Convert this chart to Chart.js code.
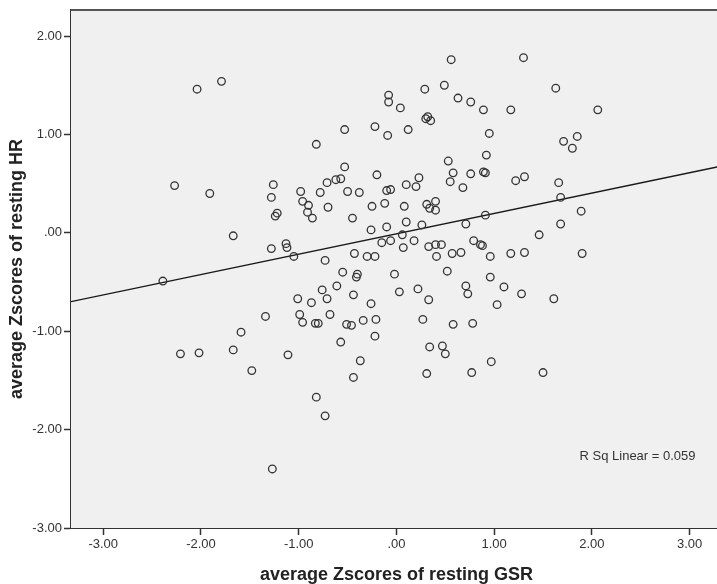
<!DOCTYPE html>
<html>
<head>
<meta charset="utf-8">
<title>HR vs GSR z-scores</title>
<style>
  html, body { margin: 0; padding: 0; background: #ffffff; overflow: hidden; }
  #wrap { width: 727px; height: 584px; }
</style>
<script src="https://cdn.jsdelivr.net/npm/chart.js@4.4.1/dist/chart.umd.min.js"></script>
</head>
<body>
<div id="wrap"><canvas id="chart" width="727" height="584"></canvas></div>
<script>
// Per-participant averaged z-scores (x: resting GSR, y: resting HR)
const gsrZ = [
  -2.04, -1.79, -0.82, -0.53, -0.22, 0.56, 1.30, -0.08, -0.08, 0.29,
  0.49, 0.04, 0.63, 0.76, 0.89, 1.17, 1.63, 2.06, 0.32, 0.30,
  0.35, -0.09, 0.12, 0.95, 0.92, 1.71, 1.85, 1.80, 0.53,
  -2.27, -1.91, -1.26, -1.28, -1.22, -1.24, -1.67, -1.28, -1.13, -1.12, -1.05,
  -0.98, -0.96, -0.90, -0.91, -0.86, -0.78, -0.71, -0.62, -0.57, -0.53,
  -0.50, -0.38, -0.70, -0.45, -0.25, -0.26, -0.20, -0.73, -0.43, -0.30, -0.22, -0.55, -0.40,
  0.23, 0.10, 0.20, -0.10, -0.06, 0.58, 0.55, 0.68, 0.76, 0.89,
  0.91, 1.22, 1.31, 1.66, 1.68, 1.89, 1.68, 1.46, 1.90, 1.17,
  1.31, 0.96, 0.91, 0.71, 0.79, 0.86, 0.88, 0.66, 0.57, 0.41,
  0.33, 0.40, 0.46, 0.18, 0.07, 0.26, 0.10, -0.10, 0.06, -0.06,
  -0.15, -0.12, 0.08, 0.31, 0.40, 0.34, 0.40, -0.02, 0.52,
  -2.39, -1.34, -1.59, -2.21, -2.02, -1.67, -1.48, -1.11, -1.01, -0.99,
  -0.96, -0.87, -0.76, -0.71, -0.61, -0.68, -0.83, -0.80, -0.41, -0.44,
  -0.26, -0.51, -0.46, -0.34, -0.21, -0.22, -0.57, -0.37, -0.44,
  0.96, 0.71, 0.73, 1.10, 1.28, 1.61, 1.03, 0.22, 0.03, 0.33,
  0.27, 0.58, 0.78, 0.34, 0.47, 0.50, 0.97, 0.31, 0.77, 1.50,
  -0.82, -0.73, -1.27
];

const hrZ = [
  1.46, 1.54, 0.90, 1.05, 1.08, 1.76, 1.78, 1.40, 1.33, 1.46,
  1.50, 1.27, 1.37, 1.33, 1.25, 1.25, 1.47, 1.25, 1.18, 1.16,
  1.14, 0.99, 1.05, 1.01, 0.79, 0.93, 0.98, 0.86, 0.73,
  0.48, 0.40, 0.49, 0.36, 0.20, 0.17, -0.03, -0.16, -0.11, -0.15, -0.24,
  0.42, 0.32, 0.28, 0.21, 0.15, 0.41, 0.51, 0.54, 0.55, 0.67,
  0.42, 0.41, 0.26, 0.15, 0.27, 0.03, 0.59, -0.28, -0.21, -0.24, -0.24, -0.40, -0.42,
  0.56, 0.49, 0.47, 0.43, 0.44, 0.61, 0.52, 0.46, 0.60, 0.62,
  0.61, 0.53, 0.57, 0.51, 0.36, 0.22, 0.09, -0.02, -0.21, -0.21,
  -0.20, -0.24, 0.18, 0.09, -0.08, -0.12, -0.13, -0.20, -0.21, -0.24,
  -0.14, -0.12, -0.12, -0.08, -0.15, 0.08, 0.11, 0.06, -0.02, -0.08,
  -0.10, 0.30, 0.27, 0.29, 0.32, 0.25, 0.23, -0.42, -0.39,
  -0.49, -0.85, -1.01, -1.23, -1.22, -1.19, -1.40, -1.24, -0.67, -0.83,
  -0.91, -0.71, -0.58, -0.67, -0.54, -0.83, -0.92, -0.92, -0.45, -0.63,
  -0.72, -0.93, -0.94, -0.89, -0.88, -1.05, -1.11, -1.30, -1.47,
  -0.45, -0.54, -0.62, -0.55, -0.62, -0.67, -0.73, -0.57, -0.60, -0.68,
  -0.88, -0.93, -0.92, -1.16, -1.15, -1.23, -1.31, -1.43, -1.42, -1.42,
  -1.67, -1.86, -2.40
];

// Axis ticks
const xTickValues = [-3, -2, -1, 0, 1, 2, 3];
const yTickValues = [-3, -2, -1, 0, 1, 2];

// Linear fit (total sample)
const fitIntercept = -0.01;
const fitSlope = 0.207;
const rSqLabel = 'R Sq Linear = 0.059';

// Axis extents
const xMin = -3.33, xMax = 3.33;
const yMin = -3, yMax = 2.265;

const FONT = '"Liberation Sans", Arial, Helvetica, sans-serif';

// SPSS-style number format: 2 decimals, no leading zero on zero
function fmtTick(v) {
  if (Math.abs(v) < 1e-9) return '.00';
  return Number(v).toFixed(2);
}

const points = gsrZ.map((x, i) => ({ x: x, y: hrZ[i] }));
const fitLine = [xMin, xMax].map(x => ({ x: x, y: fitIntercept + fitSlope * x }));

const plotFrame = {
  id: 'plotFrame',
  beforeDatasetsDraw(chart) {
    const { ctx, chartArea: a } = chart;
    ctx.save();
    ctx.fillStyle = '#f0f0f0';
    ctx.fillRect(a.left, a.top, a.right - a.left, a.bottom - a.top);
    ctx.restore();
  },
  afterDraw(chart) {
    const { ctx, chartArea: a, scales } = chart;
    ctx.save();
    ctx.strokeStyle = '#555555';
    ctx.lineWidth = 2;
    ctx.beginPath();
    ctx.moveTo(a.left, a.top);
    ctx.lineTo(a.right, a.top);
    ctx.stroke();
    ctx.fillStyle = '#333333';
    ctx.font = '13px ' + FONT;
    ctx.textAlign = 'right';
    ctx.textBaseline = 'middle';
    ctx.fillText(rSqLabel, scales.x.getPixelForValue(3.06), scales.y.getPixelForValue(-2.27));
    ctx.restore();
  }
};

new Chart(document.getElementById('chart'), {
  type: 'scatter',
  data: {
    datasets: [
      {
        label: 'HR vs GSR',
        data: points,
        pointStyle: 'circle',
        pointRadius: 3.8,
        pointHoverRadius: 3.8,
        borderWidth: 1.3,
        borderColor: '#333333',
        backgroundColor: 'rgba(0,0,0,0)',
        showLine: false
      },
      {
        label: 'Fit',
        type: 'line',
        data: fitLine,
        borderColor: '#1a1a1a',
        borderWidth: 1.4,
        pointRadius: 0,
        fill: false,
        tension: 0
      }
    ]
  },
  options: {
    responsive: false,
    animation: false,
    events: [],
    layout: { padding: { top: 10, right: 2, bottom: 0, left: 0 } },
    plugins: {
      legend: { display: false },
      tooltip: { enabled: false }
    },
    scales: {
      x: {
        type: 'linear',
        min: xMin,
        max: xMax,
        afterBuildTicks: s => { s.ticks = xTickValues.map(v => ({ value: v })); },
        afterFit: s => { s.height = 56; },
        ticks: {
          callback: fmtTick,
          color: '#333333',
          font: { family: FONT, size: 13 },
          padding: 2,
          maxRotation: 0,
          autoSkip: false
        },
        grid: {
          display: true,
          drawOnChartArea: false,
          drawTicks: true,
          tickLength: 7,
          tickColor: '#333333',
          tickWidth: 1.5
        },
        border: { display: true, color: '#333333', width: 2 },
        title: {
          display: true,
          text: 'average Zscores of resting GSR',
          color: '#222222',
          font: { family: FONT, size: 18, weight: 'bold', lineHeight: 1 },
          padding: { top: 0, bottom: 0 }
        }
      },
      y: {
        type: 'linear',
        min: yMin,
        max: yMax,
        afterBuildTicks: s => { s.ticks = yTickValues.map(v => ({ value: v })); },
        afterFit: s => { s.width = 71; },
        ticks: {
          callback: fmtTick,
          color: '#333333',
          font: { family: FONT, size: 13 },
          padding: 2,
          autoSkip: false
        },
        grid: {
          display: true,
          drawOnChartArea: false,
          drawTicks: true,
          tickLength: 7,
          tickColor: '#333333',
          tickWidth: 1.5
        },
        border: { display: true, color: '#333333', width: 2 },
        title: {
          display: true,
          text: 'average Zscores of resting HR',
          color: '#222222',
          font: { family: FONT, size: 18, weight: 'bold', lineHeight: 1 },
          padding: { top: 8.5, bottom: 0 }
        }
      }
    }
  },
  plugins: [plotFrame]
});
</script>
</body>
</html>
